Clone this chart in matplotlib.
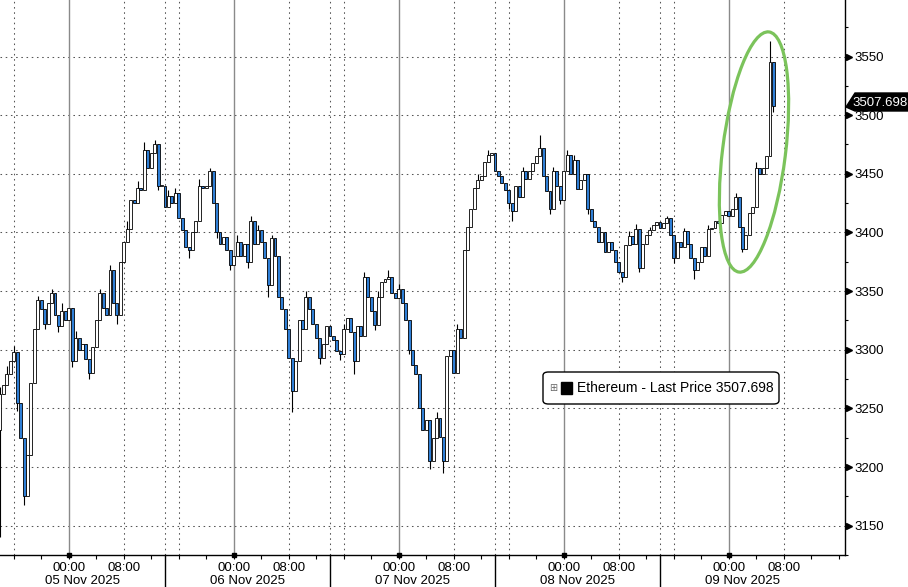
import datetime as dt
import matplotlib
matplotlib.use("Agg")
import matplotlib.pyplot as plt
import matplotlib.dates as mdates
from matplotlib.patches import Ellipse, Polygon, FancyBboxPatch, Rectangle
from matplotlib.transforms import blended_transform_factory, IdentityTransform

plt.rcParams['font.family'] = ['Liberation Sans', 'DejaVu Sans']

# ---------------- data (30-minute bars, starting 04 Nov 2025 14:00) ----------------
series_name = "Ethereum - Last Price"
last_price = 3507.698
first_open = 3232

day1_close = [3262, 3270, 3279, 3290, 3298, 3255, 3225, 3175,
              3210, 3272, 3318, 3342, 3335, 3322, 3340, 3348,
              3330, 3320, 3333, 3325, 3336, 3290, 3310, 3300,
              3305, 3292, 3280, 3302, 3325, 3348, 3336, 3330,
              3368, 3340, 3330, 3375, 3392, 3403, 3428, 3425,
              3438, 3436, 3470, 3455, 3468, 3475, 3440, 3440]
day2_close = [3422, 3431, 3425, 3434, 3412, 3402, 3388, 3385,
              3400, 3410, 3440, 3438, 3440, 3452, 3425, 3400,
              3390, 3396, 3385, 3372, 3380, 3392, 3380, 3390,
              3375, 3410, 3390, 3402, 3392, 3378, 3355, 3395,
              3380, 3345, 3335, 3318, 3293, 3265, 3290, 3325,
              3318, 3345, 3335, 3322, 3310, 3293, 3305, 3320]
day3_close = [3312, 3308, 3299, 3296, 3318, 3327, 3315, 3290,
              3320, 3312, 3362, 3345, 3333, 3321, 3345, 3358,
              3360, 3362, 3348, 3344, 3352, 3340, 3325, 3300,
              3287, 3279, 3250, 3232, 3240, 3205, 3225, 3242,
              3226, 3205, 3295, 3300, 3280, 3318, 3310, 3385,
              3405, 3420, 3438, 3445, 3448, 3460, 3466, 3468]
day4_close = [3452, 3448, 3442, 3436, 3425, 3418, 3440, 3430,
              3452, 3446, 3452, 3459, 3465, 3472, 3448, 3435,
              3420, 3452, 3440, 3428, 3452, 3466, 3450, 3462,
              3437, 3445, 3450, 3420, 3410, 3405, 3392, 3400,
              3383, 3392, 3385, 3375, 3366, 3362, 3389, 3397,
              3390, 3403, 3370, 3390, 3398, 3402, 3406, 3409]
day5_close = [3404, 3408, 3412, 3398, 3378, 3392, 3388, 3401,
              3390, 3378, 3368, 3375, 3388, 3380, 3403, 3404,
              3410, 3408, 3415, 3418, 3414, 3420, 3430, 3405,
              3386, 3398, 3417, 3422, 3455, 3450, 3455, 3465,
              3545, 3507.698]

# notable wick extremes (bar index -> price)
high_marks = {0: 3268, 2: 3286, 4: 3303, 11: 3346, 15: 3352, 18: 3340, 22: 3316,
              29: 3352, 32: 3372, 37: 3410, 40: 3444, 42: 3477, 45: 3479,
              49: 3436, 51: 3438, 58: 3446, 61: 3455, 69: 3398, 73: 3414, 75: 3406,
              79: 3398, 89: 3350, 100: 3322, 106: 3366, 110: 3350, 113: 3368,
              116: 3356, 127: 3247, 133: 3322, 139: 3450, 142: 3470, 152: 3456,
              157: 3483, 161: 3456, 165: 3470, 167: 3466, 183: 3401, 185: 3407,
              189: 3405, 194: 3414, 199: 3404, 206: 3406, 214: 3434, 220: 3460,
              224: 3563}
low_marks = {0: 3140, 5: 3248, 7: 3168, 13: 3318, 17: 3315, 21: 3285, 26: 3275,
             34: 3322, 46: 3436, 55: 3378, 63: 3395, 67: 3368, 72: 3370, 78: 3345,
             85: 3247, 93: 3288, 99: 3291, 103: 3279, 109: 3317, 119: 3296,
             125: 3198, 129: 3195, 148: 3420, 149: 3410, 160: 3416, 163: 3424,
             171: 3416, 181: 3358, 186: 3366, 196: 3374, 202: 3360, 216: 3383,
             225: 3503}

y_ticks = [3150, 3200, 3250, 3300, 3350, 3400, 3450, 3500, 3550]
date_labels = ["05 Nov 2025", "06 Nov 2025", "07 Nov 2025", "08 Nov 2025", "09 Nov 2025"]

# ---------------- figure ----------------
W, H = 908, 587
fig = plt.figure(figsize=(W / 100, H / 100), dpi=100)
fig.patch.set_facecolor('white')
ax = fig.add_axes([0, 32 / H, 845 / W, 555 / H])

BLUE = '#2f7fd6'
closes = day1_close + day2_close + day3_close + day4_close + day5_close
start = dt.datetime(2025, 11, 4, 14, 0)
times = [start + dt.timedelta(minutes=30 * i) for i in range(len(closes))]
xs = mdates.date2num(times)
opens = [first_open] + closes[:-1]
highs = [max(o, c, high_marks.get(i, 0)) for i, (o, c) in enumerate(zip(opens, closes))]
lows = [min(o, c, low_marks.get(i, 1e9)) for i, (o, c) in enumerate(zip(opens, closes))]
bottoms = [min(o, c) for o, c in zip(opens, closes)]
heights = [max(abs(c - o), 0.5) for o, c in zip(opens, closes)]
colors = ['white' if c >= o else BLUE for o, c in zip(opens, closes)]

ax.vlines(xs, lows, highs, color='black', lw=0.8, zorder=3)
ax.bar(xs, heights, bottom=bottoms, width=0.86 / 48, color=colors,
       edgecolor='black', linewidth=0.6, zorder=4)

x0 = mdates.date2num(start)
x1 = mdates.date2num(start + dt.timedelta(hours=845 / 165 * 24))
ax.set_xlim(x0, x1)
ax.set_ylim(3128.9, 3598.2)

# spines
for s in ['left', 'top']:
    ax.spines[s].set_visible(False)
for s in ['right', 'bottom']:
    ax.spines[s].set_color('black')
    ax.spines[s].set_linewidth(1.0)

# grid
DOT = (0, (1.5, 3.5))
GRID_C = '#555555'
for v in y_ticks:
    ax.axhline(v, color=GRID_C, ls=DOT, lw=0.75, zorder=1)
for d in range(4, 10):
    base = dt.datetime(2025, 11, d)
    if d >= 5:
        ax.axvline(mdates.date2num(base), color='#8a8a8a', lw=1.0, zorder=1)
        ax.axvline(mdates.date2num(base + dt.timedelta(hours=8)), color=GRID_C, ls=DOT, lw=0.75, zorder=1)
    if d <= 8:
        ax.axvline(mdates.date2num(base + dt.timedelta(hours=16)), color=GRID_C, ls=DOT, lw=0.75, zorder=1)
    if 5 <= d <= 8:
        ax.axvline(mdates.date2num(base + dt.timedelta(hours=14)), color=GRID_C, ls=DOT, lw=0.75, zorder=1)

# y axis on right
ax.yaxis.tick_right()
ax.set_yticks(y_ticks)
ax.set_yticks(list(range(3125, 3600, 25)), minor=True)
ax.tick_params(axis='y', which='major', length=0, pad=7, labelsize=9.5, colors='black')
ax.tick_params(axis='y', which='minor', length=2.5, width=0.8, colors='black')
tr_y = blended_transform_factory(ax.transAxes, ax.transData)
ax.plot([1.0052] * len(y_ticks), y_ticks, ls='none', marker='>', ms=5, color='black',
        transform=tr_y, clip_on=False, zorder=6)

# x axis
ax.xaxis.set_major_locator(mdates.HourLocator(byhour=[0, 8]))
ax.xaxis.set_major_formatter(mdates.DateFormatter('%H:%M'))
ax.xaxis.set_minor_locator(mdates.HourLocator(byhour=range(0, 24, 4)))
ax.tick_params(axis='x', which='major', length=3, width=0.8, pad=2, labelsize=9.5, colors='black')
ax.tick_params(axis='x', which='minor', length=3, width=0.8, colors='black')
tr_x = blended_transform_factory(ax.transData, ax.transAxes)
for d in range(5, 10):
    base = dt.datetime(2025, 11, d)
    ax.plot([mdates.date2num(base)], [0], marker='s', ms=2.6, color='black',
            transform=tr_x, clip_on=False, zorder=6)
    ax.text(mdates.date2num(base + dt.timedelta(hours=2)), -26 / 555, date_labels[d - 5],
            transform=tr_x, ha='center', va='center', fontsize=9.5, clip_on=False)
for d in range(5, 9):
    xv = mdates.date2num(dt.datetime(2025, 11, d, 14))
    ax.plot([xv, xv], [0, -33 / 555], color='black', lw=1.0, transform=tr_x, clip_on=False)

# last price tag (pixel coordinates)
def fx(px):
    return px / W

def fy(py):
    return 1 - py / H

tag_y = 57 + (3550 - last_price) * 1.1825
tag = Polygon([(fx(846), fy(tag_y)), (fx(855), fy(93)), (fx(910), fy(93)),
               (fx(910), fy(111)), (fx(855), fy(111))], closed=True,
              transform=fig.transFigure, facecolor='black', edgecolor='black', zorder=10)
fig.add_artist(tag)
fig.text(fx(880), fy(102.5), f"{last_price:.3f}", color='white', fontsize=9.5,
         ha='center', va='center', zorder=11)

# legend box
leg = FancyBboxPatch((fx(543), fy(404)), fx(779) - fx(543), fy(372) - fy(404),
                     boxstyle='round,pad=0,rounding_size=0.006', transform=fig.transFigure,
                     facecolor='white', edgecolor='black', lw=1.0, zorder=10)
fig.add_artist(leg)
fig.text(fx(553), fy(388), "\u229e", family=['DejaVu Sans'], fontsize=7, color='#666666',
         ha='center', va='center', zorder=11)
fig.add_artist(Rectangle((fx(561), fy(394)), fx(572) - fx(561), fy(382) - fy(394),
                         transform=fig.transFigure, facecolor='black', edgecolor='black', zorder=11))
fig.text(fx(577), fy(388), f"{series_name} {last_price:.3f}", fontsize=10,
         ha='left', va='center', zorder=11)

# highlight ellipse (pixel coordinates)
ell = Ellipse((754, H - 152), width=242, height=63, angle=82.9, transform=IdentityTransform(),
              fill=False, edgecolor='#7bc35b', lw=2.3, zorder=12)
fig.add_artist(ell)

fig.savefig('out.png', dpi=100)
